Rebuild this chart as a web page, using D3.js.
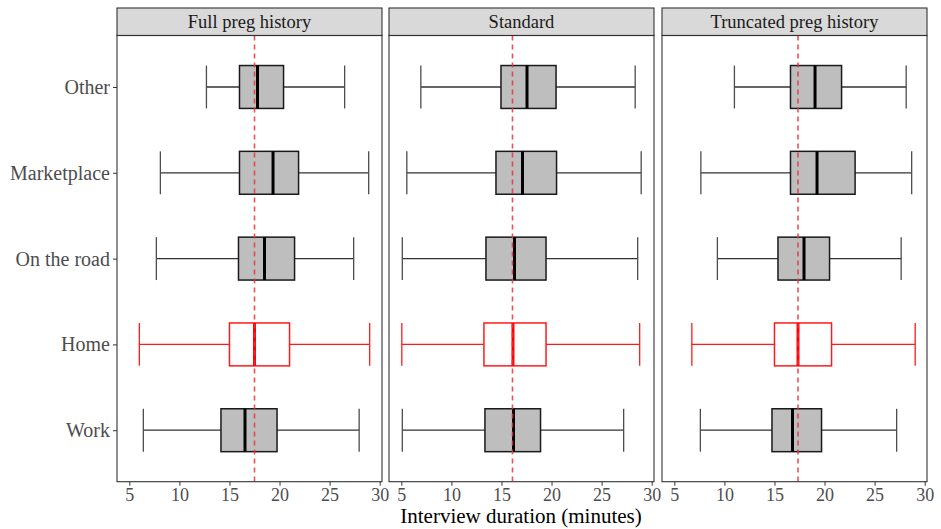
<!DOCTYPE html>
<html>
<head>
<meta charset="utf-8">
<script src="https://cdn.jsdelivr.net/npm/d3@7"></script>
<style>
  body { margin: 0; background: #fff; }
  text { font-family: "Liberation Serif", "Times New Roman", serif; }
</style>
</head>
<body>
<div id="chart"></div>
<script>
const width = 941;
const height = 529;

// categories, top to bottom
const categories = ["Other", "Marketplace", "On the road", "Home", "Work"];
const facets = ["Full preg history", "Standard", "Truncated preg history"];
const ticks = [5, 10, 15, 20, 25, 30];

// [lower whisker, q1, median, q3, upper whisker] per category
const fullPreg = [
	[12.7, 16.0, 17.8, 20.4, 26.5],
	[8.1, 16.0, 19.35, 21.9, 28.9],
	[7.7, 15.9, 18.5, 21.5, 27.4],
	[6.0, 15.0, 17.5, 21.0, 29.0],
	[6.4, 14.15, 16.55, 19.75, 27.95]
];
const standard = [
	[6.95, 14.95, 17.55, 20.45, 28.35],
	[5.55, 14.45, 17.1, 20.5, 28.95],
	[5.1, 13.45, 16.3, 19.45, 28.6],
	[5.05, 13.25, 16.15, 19.45, 28.8],
	[5.1, 13.35, 16.2, 18.9, 27.2]
];
const truncated = [
	[11.0, 16.6, 19.05, 21.7, 28.15],
	[7.65, 16.6, 19.25, 23.05, 28.7],
	[9.3, 15.35, 17.95, 20.5, 27.65],
	[6.75, 15.0, 17.35, 20.7, 29.05],
	[7.6, 14.75, 16.8, 19.7, 27.2]
];
const facetData = [fullPreg, standard, truncated];
// overall median reference line per facet
const refLines = [17.5, 16.1, 17.35];
const highlight = "Home";

const panelLefts = [117, 389, 662];
const panelWidth = 265;
const stripTop = 8;
const plotTop = 35.5;
const plotBottom = 481.7;

const svg = d3.select("#chart")
	.append("svg")
	.attr("width", width)
	.attr("height", height);

const y = d3.scalePoint()
	.domain(categories)
	.range([plotTop, plotBottom])
	.padding(0.6);

const boxH = y.step() * 0.5;

facets.forEach((facet, i) => {
	const left = panelLefts[i];
	const x = d3.scaleLinear()
		.domain([3.77, 30.23])
		.range([left, left + panelWidth]);

	const g = svg.append("g");

	// strip
	g.append("rect")
		.attr("x", left)
		.attr("y", stripTop)
		.attr("width", panelWidth)
		.attr("height", plotTop - stripTop)
		.attr("fill", "#d9d9d9")
		.attr("stroke", "#333333")
		.attr("stroke-width", 1.1);

	g.append("text")
		.attr("x", left + panelWidth / 2)
		.attr("y", (stripTop + plotTop) / 2)
		.attr("dy", "0.35em")
		.attr("text-anchor", "middle")
		.style("font-size", "18.5px")
		.style("fill", "#1a1a1a")
		.text(facet);

	// x axis
	g.append("g")
		.attr("transform", `translate(0,${plotBottom})`)
		.call(d3.axisBottom(x).tickValues(ticks).tickSize(4).tickPadding(3))
		.attr("font-family", null)
		.call((a) => a.select(".domain").remove())
		.call((a) => a.selectAll("line").attr("stroke", "#333333"))
		.call((a) => a.selectAll("text")
			.style("font-size", "18px")
			.attr("fill", "#4d4d4d"));

	if (i === 0) {
		g.append("g")
			.attr("transform", `translate(${left},0)`)
			.call(d3.axisLeft(y).tickSize(4).tickPadding(3))
			.attr("font-family", null)
			.call((a) => a.select(".domain").remove())
			.call((a) => a.selectAll("line").attr("stroke", "#333333"))
			.call((a) => a.selectAll("text")
				.style("font-size", "20px")
				.attr("fill", "#4d4d4d"));
	}

	const rows = facetData[i].map((d, k) => ({ cat: categories[k], s: d }));

	const box = g.selectAll(".box")
		.data(rows)
		.enter()
		.append("g")
		.attr("class", "box");

	const col = (d) => (d.cat === highlight ? "#ff1a1a" : "#1a1a1a");

	// whiskers
	box.append("line")
		.attr("x1", (d) => x(d.s[0]))
		.attr("x2", (d) => x(d.s[1]))
		.attr("y1", (d) => y(d.cat))
		.attr("y2", (d) => y(d.cat))
		.attr("stroke", (d) => (d.cat === highlight ? "#ff1a1a" : "#333333"))
		.attr("stroke-width", 1.3);
	box.append("line")
		.attr("x1", (d) => x(d.s[3]))
		.attr("x2", (d) => x(d.s[4]))
		.attr("y1", (d) => y(d.cat))
		.attr("y2", (d) => y(d.cat))
		.attr("stroke", (d) => (d.cat === highlight ? "#ff1a1a" : "#333333"))
		.attr("stroke-width", 1.3);
	[0, 4].forEach((j) => {
		box.append("line")
			.attr("x1", (d) => x(d.s[j]))
			.attr("x2", (d) => x(d.s[j]))
			.attr("y1", (d) => y(d.cat) - boxH / 2)
			.attr("y2", (d) => y(d.cat) + boxH / 2)
			.attr("stroke", (d) => (d.cat === highlight ? "#ff1a1a" : "#4d4d4d"))
			.attr("stroke-width", 1.3);
	});

	// box
	box.append("rect")
		.attr("x", (d) => x(d.s[1]))
		.attr("y", (d) => y(d.cat) - boxH / 2)
		.attr("width", (d) => x(d.s[3]) - x(d.s[1]))
		.attr("height", boxH)
		.attr("fill", (d) => (d.cat === highlight ? "#ffffff" : "#bebebe"))
		.attr("stroke", col)
		.attr("stroke-width", 1.5);

	// median
	box.append("line")
		.attr("x1", (d) => x(d.s[2]))
		.attr("x2", (d) => x(d.s[2]))
		.attr("y1", (d) => y(d.cat) - boxH / 2)
		.attr("y2", (d) => y(d.cat) + boxH / 2)
		.attr("stroke", (d) => (d.cat === highlight ? "#ff0000" : "#000000"))
		.attr("stroke-width", 3);

	// reference line
	g.append("line")
		.attr("x1", x(refLines[i]))
		.attr("x2", x(refLines[i]))
		.attr("y1", plotTop)
		.attr("y2", plotBottom)
		.attr("stroke", "#e8323a")
		.attr("stroke-opacity", 0.85)
		.attr("stroke-width", 1.6)
		.attr("stroke-dasharray", "5 4");

	// panel border
	g.append("rect")
		.attr("x", left)
		.attr("y", plotTop)
		.attr("width", panelWidth)
		.attr("height", plotBottom - plotTop)
		.attr("fill", "none")
		.attr("stroke", "#333333")
		.attr("stroke-width", 1.1);
});

svg.append("text")
	.attr("x", 521)
	.attr("y", 523)
	.attr("text-anchor", "middle")
	.style("font-size", "21px")
	.style("fill", "#000")
	.text("Interview duration (minutes)");
</script>
</body>
</html>
